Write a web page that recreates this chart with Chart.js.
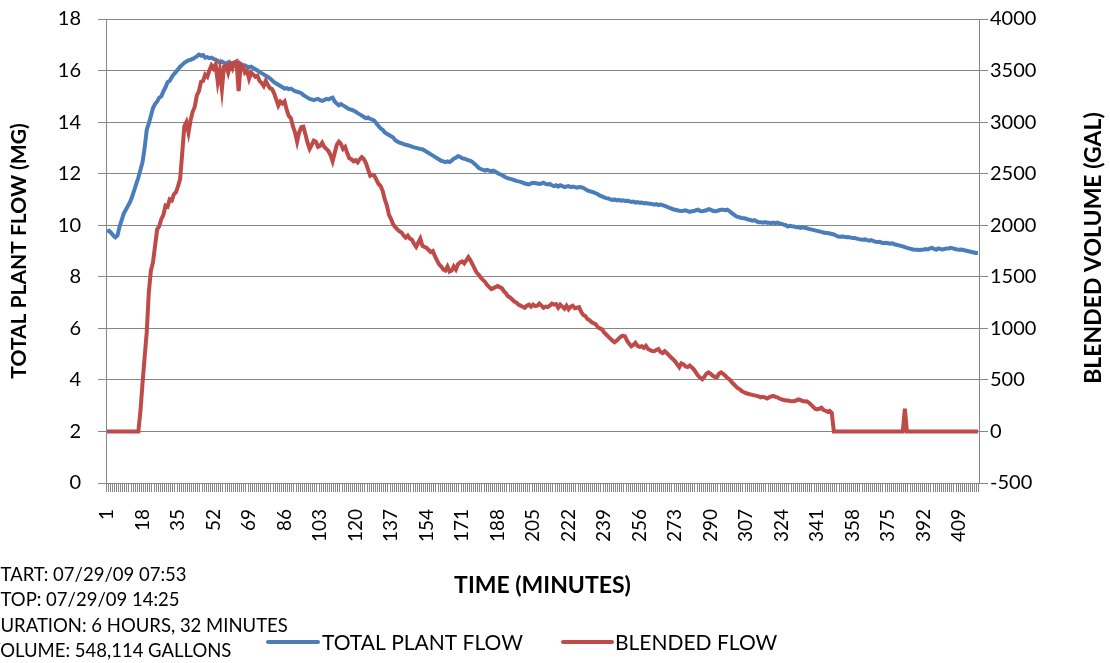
<!DOCTYPE html>
<html>
<head>
<meta charset="utf-8">
<script src="https://cdn.jsdelivr.net/npm/chart.js@4.4.1/dist/chart.umd.min.js"></script>
<style>
  html, body { margin: 0; padding: 0; background: #ffffff; }
  #wrap { width: 1110px; height: 663px; position: relative; }
</style>
</head>
<body>
<div id="wrap"><canvas id="c" width="1110" height="663"></canvas></div>
<script>
// ---- DATA ----
const categories = Array.from({ length: 418 }, (_, i) => String(i + 1));
const xTickLabels = ['1','18','35','52','69','86','103','120','137','154','171','188','205','222','239','256','273','290','307','324','341','358','375','392','409'];
const leftTicks = [0, 2, 4, 6, 8, 10, 12, 14, 16, 18];
const rightTicks = [-500, 0, 500, 1000, 1500, 2000, 2500, 3000, 3500, 4000];

// TOTAL PLANT FLOW (MG) - left axis
const totalPlantFlow = [
  9.75,9.78,9.7,9.6,9.53,9.6,9.95,10.2,10.45,10.6,
  10.75,10.9,11.1,11.35,11.6,11.85,12.15,12.45,13.0,13.7,
  13.95,14.25,14.55,14.7,14.8,14.95,15.0,15.2,15.35,15.55,
  15.6,15.75,15.86,15.95,16.05,16.15,16.22,16.3,16.35,16.4,
  16.42,16.45,16.5,16.55,16.62,16.58,16.6,16.5,16.52,16.48,
  16.5,16.45,16.42,16.38,16.3,16.35,16.3,16.25,16.32,16.28,
  16.3,16.25,16.32,16.28,16.25,16.22,16.2,16.15,16.12,16.15,
  16.1,16.05,16.0,15.95,15.9,15.85,15.8,15.75,15.7,15.62,
  15.55,15.5,15.45,15.4,15.35,15.3,15.32,15.28,15.3,15.25,
  15.2,15.18,15.15,15.12,15.05,15.0,14.95,14.9,14.88,14.85,
  14.88,14.9,14.85,14.82,14.85,14.9,14.88,14.92,14.95,14.8,
  14.72,14.65,14.7,14.65,14.6,14.55,14.5,14.48,14.45,14.4,
  14.35,14.3,14.25,14.2,14.15,14.18,14.12,14.1,14.05,13.95,
  13.85,13.75,13.7,13.6,13.55,13.5,13.45,13.4,13.3,13.25,
  13.2,13.18,13.15,13.12,13.1,13.08,13.05,13.02,13.0,12.98,
  12.96,12.95,12.9,12.85,12.8,12.75,12.7,12.65,12.6,12.55,
  12.5,12.48,12.45,12.48,12.45,12.5,12.58,12.62,12.68,12.65,
  12.6,12.58,12.55,12.52,12.5,12.45,12.38,12.3,12.22,12.18,
  12.15,12.12,12.15,12.12,12.1,12.12,12.08,12.02,11.98,11.95,
  11.9,11.85,11.82,11.8,11.78,11.75,11.72,11.7,11.68,11.65,
  11.62,11.6,11.58,11.62,11.65,11.64,11.62,11.6,11.62,11.65,
  11.6,11.58,11.6,11.55,11.52,11.55,11.5,11.55,11.52,11.48,
  11.5,11.52,11.48,11.5,11.48,11.46,11.48,11.47,11.45,11.4,
  11.35,11.32,11.3,11.27,11.24,11.2,11.15,11.12,11.08,11.05,
  11.04,11.0,10.98,11.0,10.96,10.98,10.95,10.97,10.94,10.95,
  10.93,10.9,10.92,10.88,10.9,10.87,10.88,10.85,10.86,10.84,
  10.83,10.82,10.8,10.82,10.78,10.8,10.78,10.75,10.72,10.68,
  10.65,10.62,10.6,10.58,10.56,10.55,10.56,10.58,10.55,10.52,
  10.54,10.55,10.58,10.6,10.55,10.54,10.56,10.58,10.62,10.6,
  10.56,10.54,10.55,10.58,10.6,10.6,10.58,10.6,10.55,10.48,
  10.42,10.36,10.32,10.3,10.28,10.27,10.25,10.22,10.2,10.18,
  10.2,10.15,10.12,10.12,10.1,10.12,10.1,10.1,10.08,10.1,
  10.08,10.1,10.07,10.05,10.02,10.0,9.95,9.98,9.96,9.95,
  9.92,9.93,9.9,9.92,9.9,9.88,9.86,9.84,9.82,9.8,
  9.78,9.76,9.74,9.72,9.7,9.7,9.68,9.66,9.64,9.6,
  9.56,9.55,9.56,9.55,9.53,9.54,9.52,9.5,9.5,9.48,
  9.46,9.45,9.44,9.45,9.42,9.4,9.42,9.38,9.36,9.35,
  9.36,9.32,9.3,9.32,9.3,9.28,9.3,9.26,9.24,9.22,
  9.2,9.18,9.15,9.12,9.1,9.08,9.06,9.05,9.05,9.04,
  9.05,9.06,9.08,9.06,9.1,9.12,9.08,9.05,9.1,9.08,
  9.06,9.08,9.1,9.1,9.12,9.1,9.08,9.06,9.05,9.06,
  9.04,9.02,9.0,8.98,8.96,8.94,8.92,8.92
];

// BLENDED FLOW (GAL) - right axis
const blendedFlow = [
  0,0,0,0,0,0,0,0,0,0,
  0,0,0,0,0,0,200,470,720,960,
  1350,1560,1640,1800,1960,1990,2060,2100,2190,2180,
  2250,2240,2300,2320,2380,2450,2700,2960,3000,2900,
  3020,3100,3150,3260,3300,3390,3400,3460,3440,3500,
  3550,3520,3560,3390,3500,3320,3540,3550,3480,3560,
  3520,3580,3590,3300,3560,3540,3480,3500,3420,3480,
  3460,3440,3450,3400,3380,3350,3400,3360,3330,3320,
  3280,3220,3160,3200,3180,3200,3120,3060,3040,2960,
  2900,2810,2900,2950,2955,2880,2800,2740,2780,2820,
  2810,2760,2770,2800,2760,2740,2720,2680,2620,2700,
  2780,2810,2790,2740,2760,2700,2650,2640,2620,2630,
  2610,2640,2660,2640,2600,2540,2480,2490,2480,2440,
  2400,2380,2330,2250,2190,2100,2060,2010,1980,1960,
  1940,1930,1900,1880,1900,1870,1860,1820,1790,1830,
  1870,1800,1790,1780,1760,1740,1750,1700,1660,1620,
  1600,1570,1560,1600,1550,1560,1600,1570,1620,1640,
  1650,1630,1660,1690,1660,1620,1580,1540,1520,1490,
  1470,1450,1420,1400,1380,1390,1400,1410,1400,1390,
  1360,1340,1310,1300,1280,1260,1250,1230,1220,1210,
  1200,1220,1230,1210,1230,1215,1220,1240,1220,1200,
  1210,1205,1220,1240,1230,1235,1200,1230,1210,1190,
  1220,1185,1210,1220,1195,1200,1205,1160,1130,1120,
  1090,1080,1060,1050,1040,1010,1000,990,960,940,
  920,900,880,865,880,900,920,930,923,880,
  850,826,840,860,830,820,826,810,830,800,
  790,780,778,790,800,770,760,778,760,740,
  720,700,680,650,622,660,650,630,625,640,
  622,600,570,540,520,506,530,560,573,560,
  540,530,525,560,573,560,540,520,506,480,
  460,440,420,408,390,380,370,365,360,355,
  350,345,340,330,335,330,320,330,340,345,
  335,330,320,310,305,300,300,295,292,295,
  300,310,305,295,290,292,280,260,240,220,
  214,220,230,210,200,190,200,180,0,0,
  0,0,0,0,0,0,0,0,0,0,
  0,0,0,0,0,0,0,0,0,0,
  0,0,0,0,0,0,0,0,0,0,
  0,0,220,0,0,0,0,0,0,0,
  0,0,0,0,0,0,0,0,0,0,
  0,0,0,0,0,0,0,0,0,0,
  0,0,0,0,0,0,0,0
];

const infoLines = [
  'START: 07/29/09 07:53',
  'STOP: 07/29/09 14:25',
  'DURATION: 6 HOURS, 32 MINUTES',
  'VOLUME: 548,114 GALLONS'
];

// ---- STYLE ----
const FONT = 'Lato, "Open Sans", "DejaVu Sans", sans-serif';
const BLUE = '#4A7EBB';
const RED = '#BE4B48';
const GRID = '#868686';

const extras = {
  id: 'extras',
  afterDraw(chart) {
    const ctx = chart.ctx;
    ctx.save();
    // right axis title (reads bottom to top)
    ctx.fillStyle = '#000';
    ctx.font = 'bold 23px ' + FONT;
    ctx.textAlign = 'center';
    ctx.textBaseline = 'middle';
    ctx.translate(1094, 248);
    ctx.rotate(-Math.PI / 2);
    ctx.fillText('BLENDED VOLUME (GAL)', 0, 0);
    ctx.restore();

    // info text block (first letter clipped by the canvas edge)
    ctx.save();
    ctx.fillStyle = '#000';
    ctx.font = '18.5px ' + FONT;
    ctx.textAlign = 'left';
    ctx.textBaseline = 'middle';
    const ys = [575, 600, 626, 651];
    infoLines.forEach((t, k) => {
      const w = ctx.measureText(t[0]).width;
      ctx.fillText(t, -w + 0.5, ys[k]);
    });
    ctx.restore();

    // legend
    ctx.save();
    const ly = 642;
    const items = [
      { x0: 268, x1: 318, tx: 322, color: BLUE, label: chart.data.datasets[0].label },
      { x0: 563, x1: 612, tx: 615, color: RED, label: chart.data.datasets[1].label }
    ];
    items.forEach(it => {
      ctx.strokeStyle = it.color;
      ctx.lineWidth = 4;
      ctx.lineCap = 'round';
      ctx.beginPath();
      ctx.moveTo(it.x0, ly);
      ctx.lineTo(it.x1, ly);
      ctx.stroke();
      ctx.fillStyle = '#000';
      ctx.font = '21px ' + FONT;
      ctx.textAlign = 'left';
      ctx.textBaseline = 'middle';
      ctx.fillText(it.label, it.tx, ly + 1);
    });
    ctx.restore();
  }
};

function fixVertical(width) {
  return function (s) {
    s.width = width;
    s.paddingTop = 0;
    s.paddingBottom = 0;
  };
}

new Chart(document.getElementById('c'), {
  type: 'line',
  data: {
    labels: categories,
    datasets: [
      {
        label: 'TOTAL PLANT FLOW',
        data: totalPlantFlow,
        yAxisID: 'y',
        borderColor: BLUE,
        backgroundColor: BLUE,
        borderWidth: 4,
        pointRadius: 0,
        tension: 0,
        order: 1
      },
      {
        label: 'BLENDED FLOW',
        data: blendedFlow,
        yAxisID: 'y1',
        borderColor: RED,
        backgroundColor: RED,
        borderWidth: 4,
        pointRadius: 0,
        tension: 0,
        order: 0
      }
    ]
  },
  options: {
    responsive: false,
    animation: false,
    devicePixelRatio: 1,
    layout: { padding: { top: 19, left: 0, right: 0, bottom: 63 } },
    plugins: { legend: { display: false }, tooltip: { enabled: false } },
    scales: {
      x: {
        type: 'category',
        offset: true,
        grid: { display: true, offset: true, drawOnChartArea: false, drawTicks: true, tickLength: 9, color: GRID, lineWidth: 1 },
        border: { display: true, color: GRID, width: 1 },
        ticks: {
          autoSkip: false,
          maxRotation: 90,
          minRotation: 90,
          padding: 17,
          color: '#000',
          font: { family: FONT, size: 19 },
          callback: function (v, i) {
            const lab = categories[i];
            return xTickLabels.includes(lab) ? lab : '';
          }
        },
        title: { display: true, text: 'TIME (MINUTES)', color: '#000', font: { family: FONT, size: 23, weight: 'bold' }, padding: { top: 1, bottom: 1 } },
        afterFit(s) { s.height = 117; }
      },
      y: {
        position: 'left',
        min: 0,
        max: 18,
        afterBuildTicks(s) { s.ticks = leftTicks.map(v => ({ value: v })); },
        grid: { display: true, drawOnChartArea: true, drawTicks: true, tickLength: 8, color: GRID, lineWidth: 1 },
        border: { display: true, color: GRID, width: 1 },
        ticks: { padding: 17, color: '#000', font: { family: FONT, size: 20 } },
        title: { display: true, text: 'TOTAL PLANT FLOW (MG)', color: '#000', font: { family: FONT, size: 21, weight: 'bold' }, padding: { top: 7, bottom: 0 } },
        afterFit: fixVertical(106)
      },
      y1: {
        position: 'right',
        min: -500,
        max: 4000,
        afterBuildTicks(s) { s.ticks = rightTicks.map(v => ({ value: v })); },
        grid: { display: true, drawOnChartArea: false, drawTicks: true, tickLength: 9, color: GRID, lineWidth: 1 },
        border: { display: true, color: GRID, width: 1 },
        ticks: { padding: 2, color: '#000', font: { family: FONT, size: 20 }, callback: v => String(v) },
        title: { display: false },
        afterFit: fixVertical(131)
      }
    }
  },
  plugins: [extras]
});
</script>
</body>
</html>
